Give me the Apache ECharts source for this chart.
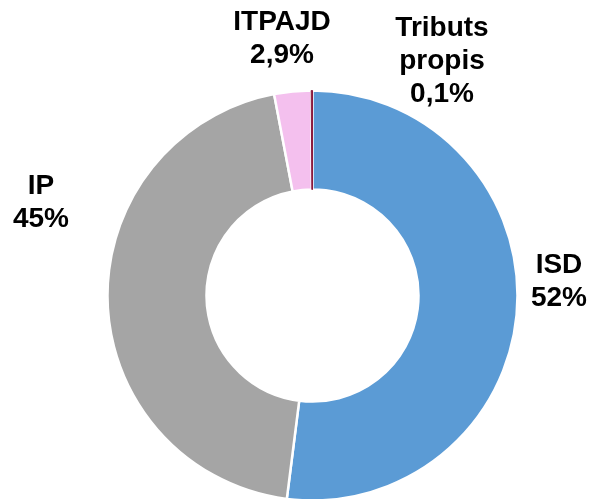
<!doctype html>
<html>
<head>
    <meta charset="utf-8">
    <title>Donut</title>
    <style>
    html, body { margin: 0; padding: 0; background: #fff; }
    #main { width: 594px; height: 499px; }
    </style>
</head>
<body>
    <div id="main"></div>
    <script src="https://cdn.jsdelivr.net/npm/echarts@6/dist/echarts.min.js"></script>
    <script>
    var categories = ['ISD', 'IP', 'ITPAJD', 'Tributs\npropis'];
    var values = [52, 45, 2.9, 0.1];
    var colors = ['#5b9bd5', '#a5a5a5', '#f4c0ee', '#8b1a3c'];

    // where each label's centre goes
    var labelPos = [[559, 282], [41, 203], [282, 39], [442, 61]];

    var data = [];
    for (var i = 0; i < categories.length; i++) {
        data.push({ name: categories[i], value: values[i], itemStyle: { color: colors[i] } });
    }
    // tiny slice: stroke it in its own colour so the white borders don't hide it
    data[3].itemStyle.borderColor = colors[3];
    data[3].itemStyle.borderWidth = 1;

    var chart = echarts.init(document.getElementById('main'));
    chart.setOption({
        animation: false,
        series: [{
            type: 'pie',
            center: [312.5, 295.5],
            radius: [106, 205],
            startAngle: 90,
            clockwise: true,
            avoidLabelOverlap: false,
            itemStyle: { borderColor: '#fff', borderWidth: 2.5 },
            label: {
                show: true,
                position: 'outside',
                color: '#000',
                fontFamily: 'Liberation Sans, Arial, sans-serif',
                fontWeight: 'bold',
                fontSize: 28,
                lineHeight: 33,
                align: 'center',
                formatter: function(p) {
                    return p.name + '\n' + String(p.value).replace('.', ',') + '%';
                }
            },
            labelLine: { show: false },
            labelLayout: function(p) {
                var pos = labelPos[p.dataIndex];
                return { x: pos[0], y: pos[1], align: 'center', verticalAlign: 'middle' };
            },
            data: data
        }]
    });
    </script>
</body>
</html>
